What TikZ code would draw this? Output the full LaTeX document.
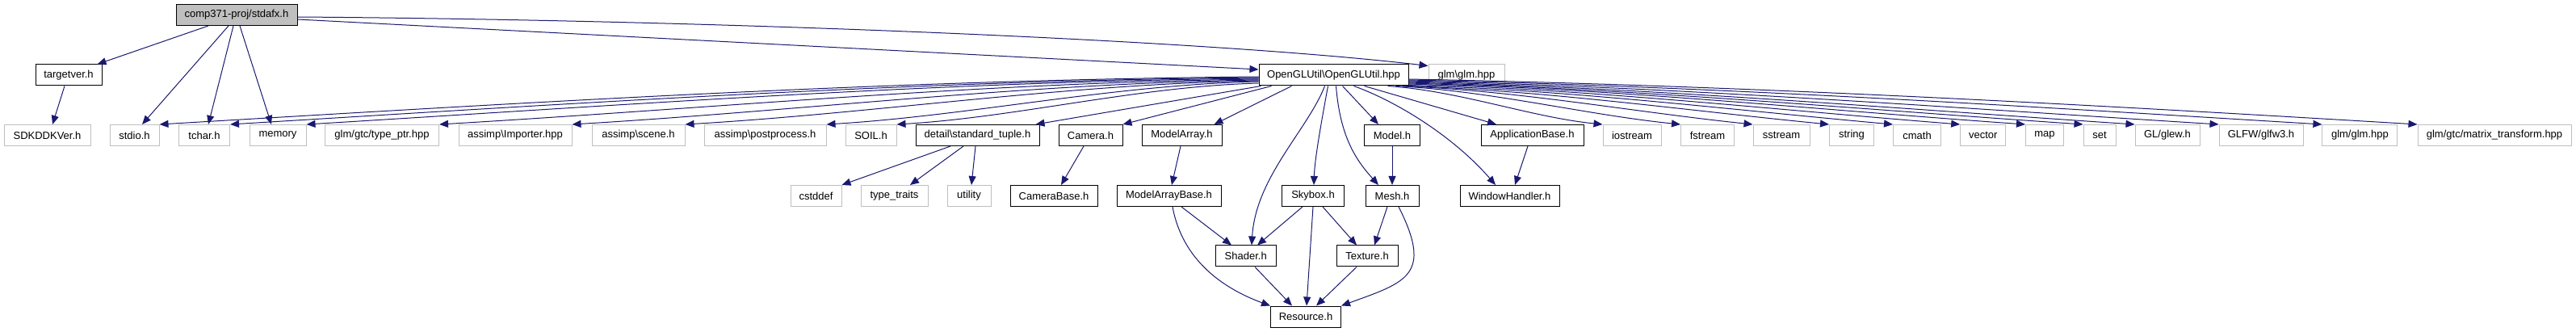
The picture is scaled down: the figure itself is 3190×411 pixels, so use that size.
\documentclass[tikz,border=0pt]{standalone}
\usepackage{fontspec}
\setmainfont{Liberation Sans}
\usetikzlibrary{arrows.meta,calc}
\definecolor{edgec}{HTML}{191970}
\definecolor{greyseventyfive}{HTML}{BFBFBF}
\tikzset{
  basebox/.style={rectangle, minimum height=26pt, inner sep=0pt, font=\fontsize{13}{15}\selectfont, text=black, fill=white, line width=1pt},
  intn/.style={basebox, draw=black},
  extn/.style={basebox, draw=greyseventyfive},
  rootn/.style={basebox, draw=black, fill=greyseventyfive},
  dep/.style={draw=edgec, line width=1pt, -{Triangle[length=11pt,width=9pt]}},
}
\begin{document}
\begin{tikzpicture}[x=1pt,y=-1pt]
\useasboundingbox (0,0) rectangle (3190,411);
% row 0
\node[rootn, minimum width=150pt] (stdafx) at (293,18.5) {comp371-proj/stdafx.h};
% row 1
\node[intn, minimum width=82pt] (targetver) at (85,93) {targetver.h};
\node[intn, minimum width=185pt] (ogl) at (1651.5,93) {OpenGLUtil\textbackslash OpenGLUtil.hpp};
\node[extn, minimum width=94pt] (glmbs) at (1816,93) {glm\textbackslash glm.hpp};
% row 2
\node[extn, minimum width=107pt] (sdk) at (58.5,167.5) {SDKDDKVer.h};
\node[extn, minimum width=61pt] (stdio) at (166.5,167.5) {stdio.h};
\node[extn, minimum width=63pt] (tchar) at (253,167.5) {tchar.h};
\node[extn, minimum width=70pt] (memory) at (344,167.5) {memory};
\node[extn, minimum width=141pt] (typeptr) at (473,167.5) {glm/gtc/type\_ptr.hpp};
\node[extn, minimum width=140pt] (importer) at (638,167.5) {assimp\textbackslash Importer.hpp};
\node[extn, minimum width=115pt] (scene) at (790.5,167.5) {assimp\textbackslash scene.h};
\node[extn, minimum width=151pt] (postproc) at (947.5,167.5) {assimp\textbackslash postprocess.h};
\node[extn, minimum width=63pt] (soil) at (1078.5,167.5) {SOIL.h};
\node[intn, minimum width=153pt] (tuple) at (1210.5,167.5) {detail\textbackslash standard\_tuple.h};
\node[intn, minimum width=79pt] (camera) at (1350.5,167.5) {Camera.h};
\node[intn, minimum width=99pt] (marray) at (1463.5,167.5) {ModelArray.h};
\node[intn, minimum width=69pt] (model) at (1724,167.5) {Model.h};
\node[intn, minimum width=127pt] (appbase) at (1897.5,167.5) {ApplicationBase.h};
\node[extn, minimum width=72pt] (iostream) at (2021,167.5) {iostream};
\node[extn, minimum width=66pt] (fstream) at (2114.5,167.5) {fstream};
\node[extn, minimum width=70pt] (sstream) at (2206,167.5) {sstream};
\node[extn, minimum width=55pt] (string) at (2293,167.5) {string};
\node[extn, minimum width=59pt] (cmath) at (2374,167.5) {cmath};
\node[extn, minimum width=56pt] (vector) at (2455.7,167.5) {vector};
\node[extn, minimum width=47pt] (map) at (2532,167.5) {map};
\node[extn, minimum width=40pt] (set) at (2600,167.5) {set};
\node[extn, minimum width=80pt] (glew) at (2684,167.5) {GL/glew.h};
\node[extn, minimum width=104pt] (glfw) at (2800,167.5) {GLFW/glfw3.h};
\node[extn, minimum width=93pt] (glmglm) at (2922.4,167.5) {glm/glm.hpp};
\node[extn, minimum width=190pt] (matrix) at (3089,167.5) {glm/gtc/matrix\_transform.hpp};
% row 3
\node[extn, minimum width=63pt] (cstddef) at (1010.5,242.5) {cstddef};
\node[extn, minimum width=83pt] (typetraits) at (1107.5,242.5) {type\_traits};
\node[extn, minimum width=54pt] (utility) at (1200,242.5) {utility};
\node[intn, minimum width=108pt] (camerabase) at (1305,242.5) {CameraBase.h};
\node[intn, minimum width=129pt] (marraybase) at (1447.5,242.5) {ModelArrayBase.h};
\node[intn, minimum width=77pt] (skybox) at (1626,242.5) {Skybox.h};
\node[intn, minimum width=66pt] (mesh) at (1724,242.5) {Mesh.h};
\node[intn, minimum width=123pt] (windowh) at (1869.5,242.5) {WindowHandler.h};
% row 4
\node[intn, minimum width=75pt] (shader) at (1542.7,317) {Shader.h};
\node[intn, minimum width=76pt] (texture) at (1693,317) {Texture.h};
% row 5
\node[intn, minimum width=87pt] (resource) at (1617,392) {Resource.h};

% stdafx edges
\draw[dep] ($(stdafx.south)+(-35,0)$) -- ($(targetver.north east)+(-6,0)$);
\draw[dep] ($(stdafx.south)+(-10,0)$) -- ($(stdio.north)+(9.5,0)$);
\draw[dep] ($(stdafx.south)+(-4,0)$) -- ($(tchar.north)+(5,0)$);
\draw[dep] ($(stdafx.south)+(4,0)$) -- ($(memory.north)+(-8,0)$);
\draw[dep] ($(stdafx.east)+(0,5.5)$) -- ($(ogl.west)+(0,-7)$);
\draw[dep] ($(stdafx.east)+(0,2.5)$) .. controls (900,25) and (1500,50) .. ($(glmbs.north west)+(0,2)$);
\draw[dep] ($(targetver.south)+(-5,0)$) -- ($(sdk.north)+(6.5,0)$);

% ogl -> left targets
\draw[dep] ($(ogl.west)+(0,2)$) .. controls +(-454,4) and +(454,-27) .. (stdio.north east);
\draw[dep] ($(ogl.west)+(0,3)$) .. controls +(-425,4) and +(425,-26) .. (tchar.north east);
\draw[dep] ($(ogl.west)+(0,4)$) .. controls +(-394,4) and +(394,-24) .. (memory.north east);
\draw[dep] ($(ogl.west)+(0,5)$) .. controls +(-339,4) and +(339,-20) .. (typeptr.north east);
\draw[dep] ($(ogl.west)+(0,6)$) .. controls +(-284,4) and +(284,-17) .. (importer.north east);
\draw[dep] ($(ogl.west)+(0,7)$) .. controls +(-237,4) and +(237,-14) .. (scene.north east);
\draw[dep] ($(ogl.west)+(0,8)$) .. controls +(-179,4) and +(179,-11) .. (postproc.north east);
\draw[dep] ($(ogl.west)+(0,10)$) .. controls +(-150,4) and +(150,-9) .. (soil.north east);
\draw[dep] ($(ogl.south west)+(3,0)$) -- ($(tuple.north east)+(-5,0)$);
\draw[dep] ($(ogl.south west)+(16,0)$) -- (camera.north east);
\draw[dep] ($(ogl.south west)+(41,0)$) -- ($(marray.north east)+(-10,0)$);
% ogl -> lower targets
\draw[dep] ($(ogl.south west)+(82,0)$) .. controls +(-21,54) and +(5,-84) .. ($(shader.north)+(7.3,0)$);
\draw[dep] ($(ogl.south west)+(86,0)$) .. controls +(-10,54) and +(1,-30) .. ($(skybox.north)+(1,0)$);
\draw[dep] ($(ogl.south west)+(96,0)$) .. controls +(5,64) and +(-27,-30) .. ($(mesh.north)+(-17,0)$);
\draw[dep] ($(ogl.south west)+(104,0)$) -- ($(model.north)+(-17,0)$);
\draw[dep] ($(ogl.south west)+(118,0)$) .. controls +(53,19) and +(-52,-60) .. ($(windowh.north)+(-17.5,0)$);
\draw[dep] ($(ogl.south west)+(131,0)$) -- ($(appbase.north)+(-44.5,0)$);
% ogl -> right targets
\draw[dep] ($(ogl.south east)+(-26,0)$) .. controls +(89,6) and +(-89,-9) .. (iostream.north west);
\draw[dep] ($(ogl.south east)+(-16,0)$) .. controls +(118,6) and +(-118,-12) .. (fstream.north west);
\draw[dep] ($(ogl.south east)+(-8,0)$) .. controls +(145,6) and +(-145,-15) .. (sstream.north west);
\draw[dep] ($(ogl.south east)+(-2,0)$) .. controls +(175,6) and +(-175,-17) .. (string.north west);
\draw[dep] ($(ogl.south east)+(0,-1)$) .. controls +(200,6) and +(-200,-18) .. (cmath.north west);
\draw[dep] ($(ogl.east)+(0,11)$) .. controls +(228,7) and +(-228,-18) .. (vector.north west);
\draw[dep] ($(ogl.east)+(0,10)$) .. controls +(255,7) and +(-255,-18) .. (map.north west);
\draw[dep] ($(ogl.east)+(0,9)$) .. controls +(279,8) and +(-279,-19) .. (set.north west);
\draw[dep] ($(ogl.east)+(0,8)$) .. controls +(300,8) and +(-300,-20) .. (glew.north west);
\draw[dep] ($(ogl.east)+(0,7)$) .. controls +(335,8) and +(-335,-21) .. (glfw.north west);
\draw[dep] ($(ogl.east)+(0,6)$) .. controls +(377,8) and +(-377,-23) .. (glmglm.north west);
\draw[dep] ($(ogl.east)+(0,5)$) .. controls +(417,8) and +(-417,-25) .. (matrix.north west);

% lower edges
\draw[dep] ($(tuple.south)+(-33.5,0)$) -- (cstddef.north east);
\draw[dep] ($(tuple.south)+(-17.5,0)$) -- ($(typetraits.north)+(19.5,0)$);
\draw[dep] ($(tuple.south)+(-2.5,0)$) -- ($(utility.north)+(3,0)$);
\draw[dep] ($(camera.south)+(-8.5,0)$) -- ($(camerabase.north)+(9,0)$);
\draw[dep] ($(marray.south)+(-1.5,0)$) -- ($(marraybase.north)+(3.5,0)$);
\draw[dep] ($(marraybase.south)+(15.5,0)$) -- ($(shader.north)+(-17.7,0)$);
\draw[dep] ($(marraybase.south)+(4.5,0)$) .. controls +(12,65) and +(-60,-22) .. (resource.north west);
\draw[dep] ($(skybox.south)+(-13,0)$) -- ($(shader.north)+(14.3,0)$);
\draw[dep] ($(skybox.south)+(12,0)$) -- ($(texture.north)+(-13,0)$);
\draw[dep] (skybox.south) -- ($(resource.north)+(1,0)$);
\draw[dep] ($(shader.south)+(11.3,0)$) -- ($(resource.north)+(-17,0)$);
\draw[dep] ($(texture.south)+(-13,0)$) -- ($(resource.north)+(13,0)$);
\draw[dep] ($(mesh.south)+(-6,0)$) -- ($(texture.north)+(9,0)$);
\draw[dep] ($(mesh.south)+(8,0)$) .. controls +(43,85) and +(80,-29) .. (resource.north east);
\draw[dep] (model.south) -- (mesh.north);
\draw[dep] ($(appbase.south)+(-5.5,0)$) -- ($(windowh.north)+(6.5,0)$);
\end{tikzpicture}
\end{document}
